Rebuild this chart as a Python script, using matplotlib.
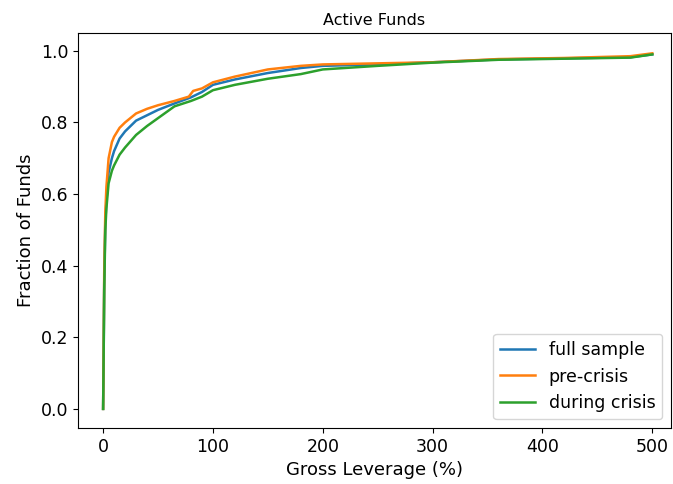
import matplotlib
matplotlib.use("Agg")
import matplotlib.pyplot as plt

# Gross leverage (%) and cumulative fraction of funds
lev_full = [0, 0.5, 1, 2, 3, 5, 8, 10, 15, 20, 30, 40, 50, 65, 80, 90, 100, 120,
            150, 180, 200, 250, 300, 360, 420, 480, 500]
frac_full = [0.0, 0.15, 0.35, 0.52, 0.58, 0.66, 0.70, 0.72, 0.755, 0.775, 0.805,
             0.82, 0.835, 0.853, 0.87, 0.885, 0.905, 0.92, 0.938, 0.952, 0.958,
             0.962, 0.968, 0.976, 0.979, 0.982, 0.99]

lev_pre = [0, 0.5, 1, 2, 3, 5, 8, 10, 15, 20, 30, 40, 50, 65, 78, 82, 90, 100, 120,
           150, 180, 200, 250, 300, 360, 420, 480, 500]
frac_pre = [0.0, 0.17, 0.38, 0.55, 0.62, 0.70, 0.745, 0.76, 0.785, 0.80, 0.825,
            0.838, 0.848, 0.86, 0.872, 0.888, 0.895, 0.912, 0.928, 0.948, 0.958,
            0.962, 0.965, 0.968, 0.977, 0.980, 0.985, 0.993]

lev_crisis = [0, 0.5, 1, 2, 3, 5, 8, 10, 15, 20, 30, 40, 50, 65, 80, 90, 100, 120,
              150, 180, 200, 250, 300, 360, 420, 480, 500]
frac_crisis = [0.0, 0.15, 0.33, 0.50, 0.56, 0.63, 0.665, 0.68, 0.71, 0.73, 0.765,
               0.79, 0.812, 0.845, 0.86, 0.872, 0.89, 0.905, 0.922, 0.935, 0.948,
               0.958, 0.967, 0.975, 0.978, 0.981, 0.99]

series = [
    ("full sample", lev_full, frac_full, "#1f77b4"),
    ("pre-crisis", lev_pre, frac_pre, "#ff7f0e"),
    ("during crisis", lev_crisis, frac_crisis, "#2ca02c"),
]

fig = plt.figure(figsize=(6.73, 4.84), dpi=100)
ax = fig.add_axes([0.116, 0.116, 0.881, 0.816])

for label, x, y, color in series:
    ax.plot(x, y, color=color, linewidth=1.8, label=label)

ax.set_xlim(-22.8, 517)
ax.set_ylim(-0.053, 1.05)
ax.set_xticks([0, 100, 200, 300, 400, 500])
ax.set_yticks([0.0, 0.2, 0.4, 0.6, 0.8, 1.0])
ax.tick_params(labelsize=12.5)

ax.set_title("Active Funds", fontsize=11.5)
ax.set_xlabel("Gross Leverage (%)", fontsize=13)
ax.set_ylabel("Fraction of Funds", fontsize=13)
ax.legend(loc="lower right", fontsize=12.5)

fig.savefig("out.png", dpi=100)
